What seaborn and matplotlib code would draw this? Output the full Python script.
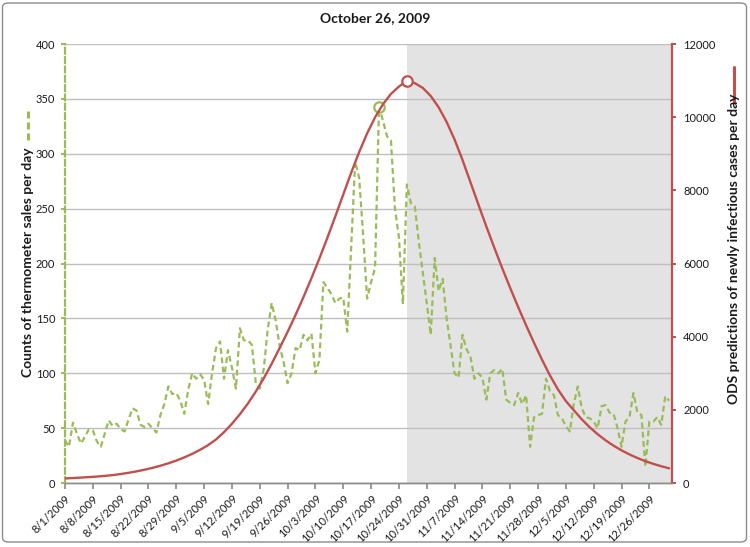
import numpy as np
import pandas as pd
import matplotlib
matplotlib.use("Agg")
import matplotlib.pyplot as plt
import matplotlib.dates as mdates
from matplotlib.ticker import FuncFormatter, FixedLocator
from matplotlib.lines import Line2D
from matplotlib.patches import FancyBboxPatch
import seaborn as sns

# ---------------- data ----------------
title = "October 26, 2009"
start_date = "2009-08-01"
shade_start = "2009-10-26"
left_label = "Counts of thermometer sales per day"
right_label = "ODS predictions of newly infectious cases per day"

# thermometer sales per day, 8/1/2009 .. 12/31/2009
sales = [39, 33, 55, 45, 36, 42, 49, 48, 38, 33,
         45, 57, 52, 54, 49, 47, 58, 68, 66, 53,
         51, 54, 50, 46, 62, 72, 88, 81, 82, 75,
         63, 85, 100, 95, 99, 94, 72, 100, 123, 129,
         95, 121, 105, 86, 141, 130, 130, 126, 91, 86,
         104, 140, 164, 148, 125, 110, 91, 100, 123, 121,
         135, 130, 136, 100, 112, 183, 178, 172, 164, 168,
         169, 138, 215, 293, 278, 226, 168, 183, 196, 343,
         330, 316, 312, 250, 224, 163, 272, 255, 252, 220,
         192, 164, 135, 205, 175, 186, 150, 125, 100, 96,
         135, 122, 115, 95, 100, 96, 76, 100, 103, 100,
         104, 76, 73, 71, 82, 72, 80, 33, 60, 62,
         63, 95, 84, 80, 62, 59, 52, 47, 72, 88,
         68, 60, 59, 56, 50, 70, 71, 64, 63, 50,
         33, 56, 60, 82, 64, 62, 15, 56, 56, 60,
         53, 79, 75]

# ODS predictions read every 2 days (days after 8/1/2009 and values)
ods_days = list(range(0, 153, 2))
ods_values = [125, 136, 148, 161, 176, 194, 216, 245, 279, 318,
              363, 414, 472, 538, 613, 699, 797, 908, 1035, 1190,
              1390, 1620, 1880, 2170, 2500, 2860, 3260, 3690, 4130, 4594,
              5084, 5598, 6138, 6702, 7286, 7886, 8482, 9046, 9556, 9996,
              10356, 10636, 10836, 10990, 10930, 10800, 10580, 10270, 9870, 9390,
              8830, 8220, 7610, 7010, 6430, 5870, 5330, 4810, 4310, 3830,
              3370, 2940, 2560, 2240, 1990, 1741, 1523, 1333, 1166, 1020,
              893, 781, 683, 598, 523, 458, 401]

left_ticks = [0, 50, 100, 150, 200, 250, 300, 350, 400]
right_ticks = [0, 2000, 4000, 6000, 8000, 10000, 12000]
tick_dates = ["2009-08-01", "2009-08-08", "2009-08-15", "2009-08-22", "2009-08-29",
              "2009-09-05", "2009-09-12", "2009-09-19", "2009-09-26", "2009-10-03",
              "2009-10-10", "2009-10-17", "2009-10-24", "2009-10-31", "2009-11-07",
              "2009-11-14", "2009-11-21", "2009-11-28", "2009-12-05", "2009-12-12",
              "2009-12-19", "2009-12-26"]

# ---------------- style ----------------
GREEN = "#9bbb59"
RED = "#c0504d"
SHADE = "#e3e3e3"
GRID = "#bfbfbf"
TXT = "#1a1a1a"

sns.set_theme(style="white")
plt.rcParams["font.family"] = ["Lato", "DejaVu Sans"]

fig = plt.figure(figsize=(7.5, 5.47), dpi=100)
ax = fig.add_axes([65 / 750, 1 - 483 / 547, (672 - 65) / 750, (483 - 44) / 547])
ax2 = ax.twinx()

t0 = pd.Timestamp(start_date)
df_sales = pd.DataFrame({"date": pd.date_range(t0, periods=len(sales), freq="D"),
                         "sales": sales})
df_ods = pd.DataFrame({"date": t0 + pd.to_timedelta(ods_days, unit="D"),
                       "ods": ods_values})

# shaded future region
x_end = t0 + pd.Timedelta(days=152.7)
ax.axvspan(pd.Timestamp(shade_start), x_end, color=SHADE, zorder=0.2, lw=0)

# green dashed sales
sns.lineplot(data=df_sales, x="date", y="sales", ax=ax, color=GREEN,
             linewidth=1.6, zorder=3)
ax.lines[-1].set_linestyle((0, (2.6, 1.6)))
imax = int(np.argmax(sales))
ax.plot(df_sales["date"].iloc[imax], sales[imax], marker="o", ms=7.5,
        mfc="white", mec=GREEN, mew=1.6, zorder=4)

# red ODS curve
sns.lineplot(data=df_ods, x="date", y="ods", ax=ax2, color=RED, linewidth=1.7,
             zorder=3)
jmax = int(np.argmax(ods_values))
ax2.plot(df_ods["date"].iloc[jmax], ods_values[jmax], marker="o", ms=7.5,
         mfc="white", mec=RED, mew=1.6, zorder=4)

# axes limits / ticks
ax.set_xlim(t0, x_end)
ax.set_ylim(0, 400)
ax2.set_ylim(0, 12000)
ax.set_yticks(left_ticks)
ax2.set_yticks(right_ticks)
ax.xaxis.set_major_locator(FixedLocator(mdates.date2num(pd.to_datetime(tick_dates))))


def fmt_date(x, pos):
    d = mdates.num2date(x)
    return f"{d.month}/{d.day}/{d.year}"


ax.xaxis.set_major_formatter(FuncFormatter(fmt_date))
ax.set_xlabel("")
ax.set_ylabel("")
ax2.set_ylabel("")

ax.grid(axis="y", color=GRID, linewidth=1.0)
ax.grid(axis="x", visible=False)
ax.set_axisbelow(True)
ax2.grid(False)

for lab in ax.get_xticklabels():
    lab.set_rotation(45)
    lab.set_ha("right")
    lab.set_rotation_mode("anchor")

ax.tick_params(axis="x", which="major", bottom=True, length=4, color="#8c8c8c",
               labelsize=8, labelcolor=TXT, pad=3)
ax.tick_params(axis="y", left=True, length=3, color=GREEN, width=1.4,
               labelsize=8, labelcolor=TXT, pad=4)
ax2.tick_params(axis="y", right=True, length=3, color=RED, width=1.4,
                labelsize=8, labelcolor=TXT, pad=5)

for a in (ax, ax2):
    a.spines["top"].set_visible(False)
    a.spines["bottom"].set_color("#8c8c8c")
    a.spines["bottom"].set_linewidth(1.0)
ax.spines["right"].set_visible(False)
ax.spines["left"].set_color(GREEN)
ax.spines["left"].set_linewidth(1.6)
ax.spines["left"].set_linestyle((0, (2.6, 1.6)))
ax2.spines["left"].set_visible(False)
ax2.spines["right"].set_color(RED)
ax2.spines["right"].set_linewidth(1.6)

# title
fig.text(375 / 750, 1 - 18 / 547, title, ha="center", va="center",
         fontsize=10, fontweight="bold", color=TXT)

# axis labels with legend keys
fig.text(28 / 750, 1 - 262 / 547, left_label, rotation=90, ha="center",
         va="center", fontsize=10, fontweight="bold", color=TXT)
fig.add_artist(Line2D([28 / 750, 28 / 750], [1 - 140 / 547, 1 - 107 / 547],
                      transform=fig.transFigure, color=GREEN, lw=2.2,
                      linestyle=(0, (2.3, 1.3))))
fig.text(734 / 750, 1 - 249 / 547, right_label, rotation=90, ha="center",
         va="center", fontsize=10, fontweight="bold", color=TXT)
fig.add_artist(Line2D([734 / 750, 734 / 750], [1 - 102 / 547, 1 - 67 / 547],
                      transform=fig.transFigure, color=RED, lw=2.2))

# chart border
fig.patches.append(FancyBboxPatch((2.5 / 750, 5 / 547), 744 / 750, 539 / 547,
                                  boxstyle="round,pad=0,rounding_size=0.008",
                                  transform=fig.transFigure, fill=False,
                                  edgecolor="#8c8c8c", lw=1.0))

fig.savefig("out.png", dpi=100)
